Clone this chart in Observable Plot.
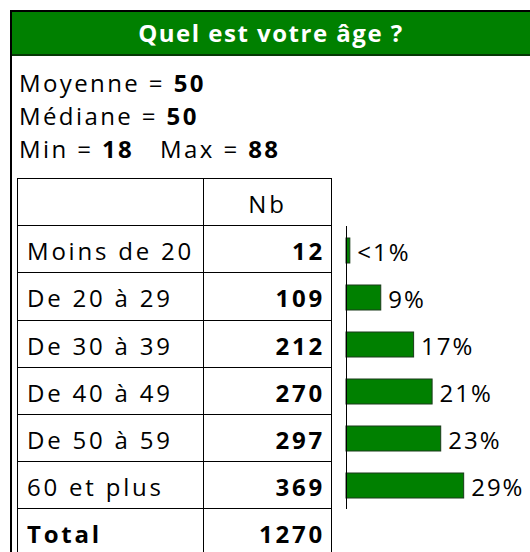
<!DOCTYPE html>
<html><head><meta charset="utf-8">
<script src="https://cdn.jsdelivr.net/npm/d3@7"></script>
<script src="https://cdn.jsdelivr.net/npm/@observablehq/plot@0.6"></script>
<style>
html,body{margin:0;padding:0;background:#fff;}
body{width:530px;height:552px;overflow:hidden;position:relative;font-family:"Open Sans",sans-serif;color:#000;}
#frame{position:absolute;left:10px;top:10px;width:530px;height:560px;border-left:2px solid #000;border-top:2px solid #000;}
#title{position:absolute;left:12px;top:12px;width:518px;height:42px;background:#008000;border-bottom:2px solid #063806;color:#fff;font-weight:bold;font-size:24px;letter-spacing:1.5px;text-align:center;line-height:42px;}
.stat{position:absolute;left:19px;font-size:24px;letter-spacing:2.4px;line-height:33px;white-space:nowrap;}
.stat b{font-weight:bold;}
table{position:absolute;left:17px;top:178px;border-collapse:collapse;font-size:24px;letter-spacing:2.8px;}
td{border:1px solid #000;height:47.2px;padding:3px 6px 0 9px;box-sizing:border-box;white-space:nowrap;}
td.lab{width:186px;}
td.num{width:128px;text-align:right;font-weight:bold;}
td.head{text-align:center;font-weight:normal;padding-left:6px;}
#bars{position:absolute;left:331px;top:225.5px;}
</style></head><body>
<div id="frame"></div>
<div id="title"></div>
<div id="stats"></div>
<table id="tbl"></table>
<div id="bars"></div>
<script>
const titleText = "Quel est votre âge ?";
const statLabels = [["Moyenne = ", "50"], ["Médiane = ", "50"], ["Min = ", "18", "   Max = ", "88"]];
const headerLabel = "Nb";
const categories = ["Moins de 20", "De 20 à 29", "De 30 à 39", "De 40 à 49", "De 50 à 59", "60 et plus"];
const counts = [12, 109, 212, 270, 297, 369];
const totalLabel = "Total";
const total = 1270;
const pctLabels = ["<1%", "9%", "17%", "21%", "23%", "29%"];

document.getElementById("title").textContent = titleText;
const stats = document.getElementById("stats");
const statTops = [66, 99, 132];
statLabels.forEach((parts, i) => {
  const d = document.createElement("div");
  d.className = "stat";
  d.style.top = statTops[i] + "px";
  parts.forEach((p, j) => {
    const s = document.createElement(j % 2 ? "b" : "span");
    s.textContent = p;
    if (j === 2) s.style.whiteSpace = "pre";
    d.appendChild(s);
  });
  stats.appendChild(d);
});

const tbl = document.getElementById("tbl");
function addRow(a, b, cls) {
  const tr = document.createElement("tr");
  const td1 = document.createElement("td"); td1.className = "lab"; td1.textContent = a;
  const td2 = document.createElement("td"); td2.className = "num" + (cls ? " " + cls : ""); td2.textContent = b;
  if (cls === "tot") td1.style.fontWeight = "bold";
  tr.appendChild(td1); tr.appendChild(td2); tbl.appendChild(tr);
}
addRow("", headerLabel, "head");
categories.forEach((c, i) => addRow(c, String(counts[i])));
addRow(totalLabel, String(total), "tot");

const data = categories.map((c, i) => ({cat: c, pct: counts[i] / total * 100, label: pctLabels[i]}));

const chart = Plot.plot({
  width: 199,
  height: 283,
  marginLeft: 15,
  marginRight: 1.75,
  marginTop: 0,
  marginBottom: 0,
  x: {domain: [0, 45], axis: null},
  y: {domain: categories, axis: null, paddingInner: 0.47, paddingOuter: 0.235},
  style: {fontFamily: "Open Sans", fontSize: "24px", letterSpacing: "2px", overflow: "visible"},
  marks: [
    Plot.barX(data, {y: "cat", x: "pct", fill: "#008000", stroke: "#1a3a1a", strokeWidth: 1}),
    Plot.ruleX([0], {stroke: "#000", strokeWidth: 1}),
    Plot.text(data, {y: "cat", x: "pct", text: "label", textAnchor: "start", dx: 7, dy: 2, fill: "#000", fontSize: 24})
  ]
});
document.getElementById("bars").appendChild(chart);
</script>
</body></html>
